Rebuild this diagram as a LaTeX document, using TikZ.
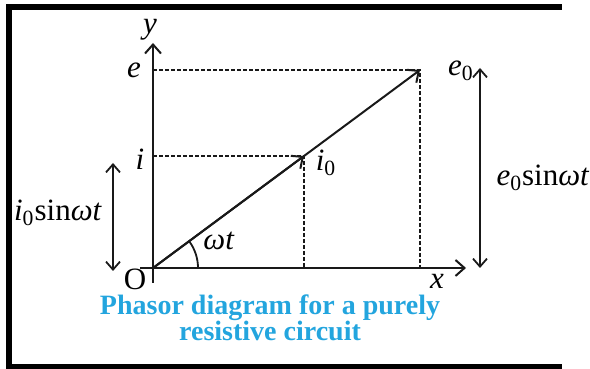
\documentclass[tikz,border=0pt]{standalone}
\usepackage{fontspec}
\setmainfont{Liberation Serif}
\usepackage{tikz}
\usetikzlibrary{arrows.meta,positioning,calc}
\definecolor{capblue}{RGB}{35,165,222}
\definecolor{lineblack}{RGB}{25,25,25}
\newcommand{\phlabel}[1]{\fontsize{15.5}{18}\selectfont #1}

\begin{document}
\begin{tikzpicture}[x=0.5pt,y=0.5pt,
    axis/.style={lineblack, line width=1.2pt, -{Straight Barb[length=4.5pt,width=8pt,line width=1pt]}},
    phasor/.style={lineblack, line width=1pt, -{Straight Barb[length=4.5pt,width=8pt,line width=1pt]}},
    proj/.style={lineblack, line width=1pt, dash pattern=on 2pt off 1pt},
    span/.style={lineblack, line width=0.9pt, {Straight Barb[length=4pt,width=7pt,line width=0.9pt]}-{Straight Barb[length=4pt,width=7pt,line width=0.9pt]}},
    frameline/.style={black, line width=3pt},
    every node/.append style={inner sep=0pt, font=\phlabel}]
    \useasboundingbox (0,0) rectangle (590,369);
    % frame, open at the right
    \draw[frameline] (6,362) -- (562,362);
    \draw[frameline] (6,2) -- (562,2);
    \draw[frameline] (9,0) -- (9,365);
    \coordinate (O) at (153,101);
    \coordinate (xstart) at (140,101);
    \coordinate (xend) at (466,101);
    \coordinate (ystart) at (153,86);
    \coordinate (yend) at (153,326);
    \coordinate (E0) at (420,299);
    \coordinate (I0) at (304,213);
    \coordinate (Ey) at (O |- E0);
    \coordinate (Ex) at (E0 |- O);
    \coordinate (Iy) at (O |- I0);
    \coordinate (Ix) at (I0 |- O);
    \draw[axis] (xstart) -- (xend);
    \draw[axis] (ystart) -- (yend);
    \draw[proj] (Ey) -- (E0) -- (Ex);
    \draw[proj] (Iy) -- (I0) -- (Ix);
    \draw[phasor] (O) -- (E0);
    \draw[phasor] (O) -- (I0);
    \draw[lineblack, line width=0.9pt] ($(O)+(45,0)$) arc (0:36.6:45);
    % labels
    \node (ylab) at (150,339) {\textit{y}};
    \node (xlab) at (437,88) {\textit{x}};
    \node (olab) at (135,90) {O};
    \node (elab) at (134,299) {\textit{e}};
    \node (ilab) at (140,210) {\textit{i}};
    \node (e0lab) at (461,298) {\textit{e}\textsubscript{0}};
    \node (i0lab) at (326,206) {\textit{i}\textsubscript{0}};
    \node (wtlab) at (219,128) {\textit{ωt}};
    % amplitude spans
    \coordinate (ltop) at (113,206);
    \coordinate (lbot) at (113,98);
    \coordinate (rtop) at (480,301);
    \coordinate (rbot) at (480,101);
    \draw[span] (ltop) -- (lbot);
    \draw[span] (rtop) -- (rbot);
    \node (isin) at (58,156) {\textit{i}\textsubscript{0}sin\textit{ωt}};
    \node (esin) at (543,191) {\textit{e}\textsubscript{0}sin\textit{ωt}};
    % caption
    \node[capblue, align=center, font=\fontsize{14}{13}\selectfont\bfseries] (cap) at (270,51)
      {Phasor diagram for a purely\\resistive circuit};
  \end{tikzpicture}
\end{document}
